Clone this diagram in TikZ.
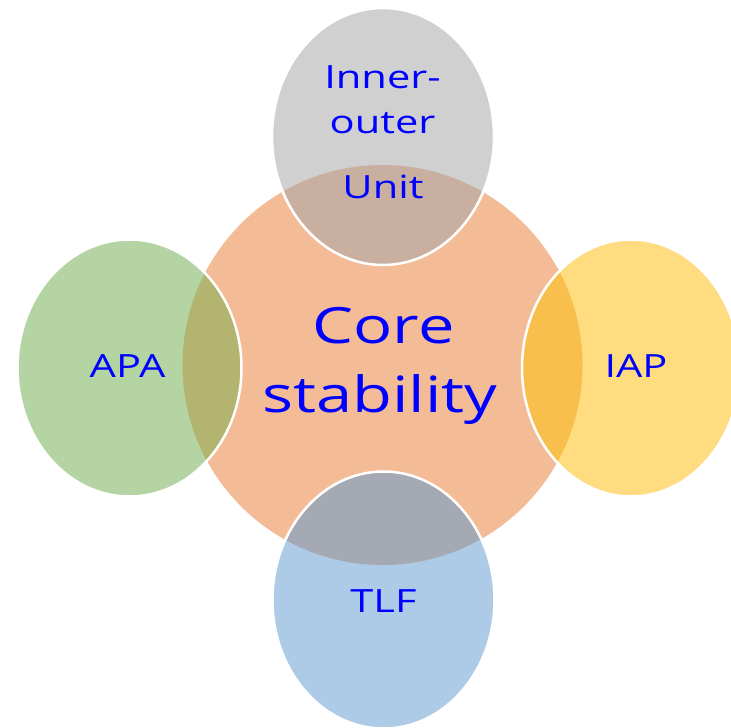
\documentclass[tikz,border=0pt]{standalone}
\usepackage{fontspec}
\newfontfamily\handfont[FakeStretch=1.3]{Open Sans}
\definecolor{coreFill}{HTML}{F4BB97}
\definecolor{topFill}{HTML}{D0D0D0}
\definecolor{topOver}{HTML}{C9AF9F}
\definecolor{leftFill}{HTML}{B5D4A3}
\definecolor{leftOver}{HTML}{B2B46F}
\definecolor{rightFill}{HTML}{FEDC7F}
\definecolor{rightOver}{HTML}{F9BF4D}
\definecolor{bottomFill}{HTML}{ADCBE7}
\definecolor{bottomOver}{HTML}{A5A9B4}
\definecolor{labelBlue}{HTML}{0000FF}
\tikzset{
  rim/.style={draw=white, line width=2.5pt},
  petal/.style={x radius=111, y radius=128.5},
  label/.style={anchor=base, inner sep=0pt, text=labelBlue, font=\handfont\fontsize{32}{36}\selectfont},
  biglabel/.style={label, font=\handfont\fontsize{50}{56}\selectfont}
}
\begin{document}
\begin{tikzpicture}[x=1pt, y=-1pt]
\useasboundingbox (0,0) rectangle (731,728);

% central disc
\fill[coreFill] (382.5,365) circle (200);

% upper petal
\fill[topFill] (383,136.5) ellipse [petal];
\begin{scope}
  \clip (382.5,365) circle (200);
  \fill[topOver] (383,136.5) ellipse [petal];
\end{scope}
\draw[rim] (383,136.5) ellipse [petal];

% left petal
\fill[leftFill] (129.5,368) ellipse [petal, x radius=112];
\begin{scope}
  \clip (382.5,365) circle (200);
  \fill[leftOver] (129.5,368) ellipse [petal, x radius=112];
\end{scope}
\draw[rim] (129.5,368) ellipse [petal, x radius=112];

% right petal
\fill[rightFill] (631,368) ellipse [petal, x radius=109];
\begin{scope}
  \clip (382.5,365) circle (200);
  \fill[rightOver] (631,368) ellipse [petal, x radius=109];
\end{scope}
\draw[rim] (631,368) ellipse [petal, x radius=109];

% lower petal
\fill[bottomFill] (383.5,600) ellipse [petal];
\begin{scope}
  \clip (382.5,365) circle (200);
  \fill[bottomOver] (383.5,600) ellipse [petal];
\end{scope}
\draw[rim] (383.5,600) ellipse [petal];

% labels
\node[label] (inner) at (382.5,88) {Inner-};
\node[label] (outer) at (382.5,133) {outer};
\node[label] (unit) at (383,198) {Unit};
\node[biglabel] (core) at (383.5,343) {Core};
\node[biglabel] (stab) at (380,412) {stability};
\node[label] (apa) at (127.5,377) {APA};
\node[label] (iap) at (636,377) {IAP};
\node[label] (tlf) at (383.5,612) {TLF};
\end{tikzpicture}
\end{document}
